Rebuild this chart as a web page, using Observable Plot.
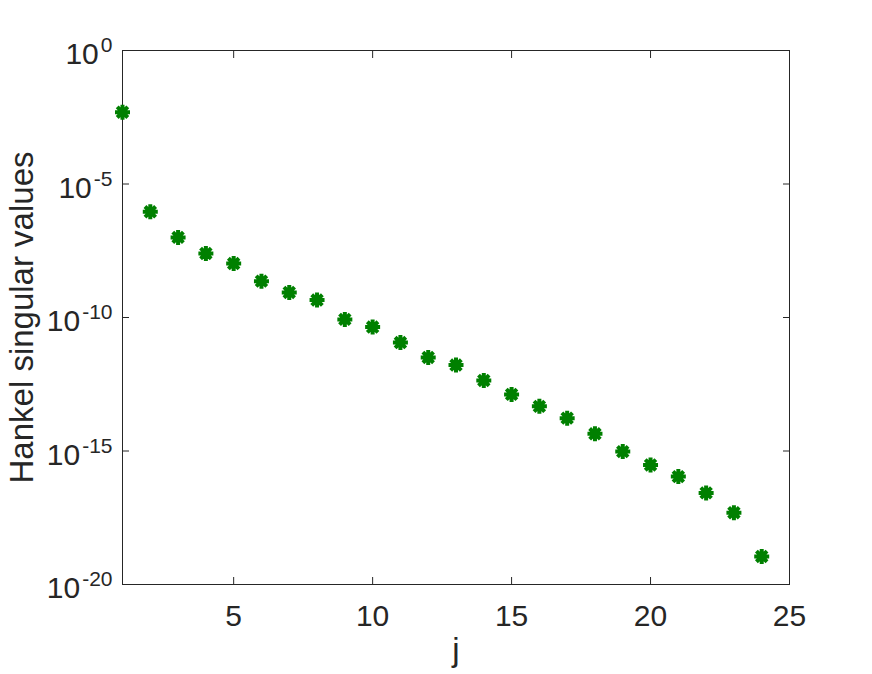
<!DOCTYPE html>
<html>
<head>
<meta charset="utf-8">
<script src="https://cdn.jsdelivr.net/npm/d3@7"></script>
<script src="https://cdn.jsdelivr.net/npm/@observablehq/plot@0.6"></script>
<style>
  html, body { margin: 0; padding: 0; background: #fff; }
  #chart svg { display: block; }
</style>
</head>
<body>
<div id="chart"></div>
<script>
const j = [1, 2, 3, 4, 5, 6, 7, 8, 9, 10, 11, 12, 13, 14, 15, 16, 17, 18, 19, 20, 21, 22, 23, 24];
const hankelSV = [
  4.9e-3, 9.1e-7, 1.0e-7, 2.5e-8, 1.05e-8, 2.3e-9, 8.7e-10, 4.5e-10,
  8.5e-11, 4.4e-11, 1.15e-11, 3.2e-12, 1.66e-12, 4.4e-13, 1.32e-13, 4.7e-14,
  1.7e-14, 4.4e-15, 9.5e-16, 3.0e-16, 1.1e-16, 2.7e-17, 4.9e-18, 1.12e-19
];
const xTicks = [5, 10, 15, 20, 25];
const yTickExponents = [0, -5, -10, -15, -20];
const xLabel = "j";
const yLabel = "Hankel singular values";

const data = j.map((v, i) => ({j: v, s: hankelSV[i]}));
const yTicks = yTickExponents.map(e => Math.pow(10, e));

const star = {
  draw(ctx, size) {
    const r = Math.sqrt(size / Math.PI);
    const d = r * Math.SQRT1_2;
    ctx.moveTo(-r, 0); ctx.lineTo(r, 0);
    ctx.moveTo(0, -r); ctx.lineTo(0, r);
    ctx.moveTo(-d, -d); ctx.lineTo(d, d);
    ctx.moveTo(-d, d); ctx.lineTo(d, -d);
  }
};

const ink = "#262626";
const chart = Plot.plot({
  width: 872,
  height: 674,
  marginLeft: 122,
  marginRight: 83,
  marginTop: 50,
  marginBottom: 90,
  style: {fontFamily: "'Liberation Sans', Arial, Helvetica, sans-serif", color: ink, background: "#fff"},
  x: {domain: [1, 25]},
  y: {type: "log", domain: [1e-20, 1]},
  marks: [
    Plot.frame({stroke: ink, strokeWidth: 1}),
    // inward ticks on all four sides
    Plot.axisX({anchor: "bottom", ticks: xTicks, tickSize: -7, tickFormat: () => "", label: null, stroke: ink}),
    Plot.axisX({anchor: "top", ticks: xTicks, tickSize: -7, tickFormat: () => "", label: null, stroke: ink}),
    Plot.axisY({anchor: "left", ticks: yTicks, tickSize: -7, tickFormat: () => "", label: null, stroke: ink}),
    Plot.axisY({anchor: "right", ticks: yTicks, tickSize: -7, tickFormat: () => "", label: null, stroke: ink}),
    // tick labels
    Plot.axisX({anchor: "bottom", ticks: xTicks, tickSize: 0, tickPadding: 20, fontSize: 30, label: null, fill: ink, ariaLabel: "x-labels"}),
    Plot.axisY({anchor: "left", ticks: yTicks, tickSize: 0, tickPadding: 10, fontSize: 30, dy: 4, label: null, fill: ink,
      tickFormat: d => "10|" + Math.round(Math.log10(d)), ariaLabel: "y-labels"}),
    // axis titles
    Plot.text([xLabel], {frameAnchor: "bottom", dy: 76, text: d => d, fontSize: 33, fill: ink, textAnchor: "middle"}),
    Plot.text([yLabel], {frameAnchor: "left", dx: -100, rotate: -90, text: d => d, fontSize: 33, fill: ink, textAnchor: "middle"}),
    // data
    Plot.dot(data, {x: "j", y: "s", symbol: star, r: 7.5, stroke: "#008000", strokeWidth: 4, strokeLinecap: "butt"})
  ]
});

document.getElementById("chart").appendChild(chart);

// render y tick labels as 10 with a superscript exponent
d3.select(chart).selectAll('g[aria-label="y-labels tick label"] text, g[aria-label="y-labels"] text').each(function() {
  const t = d3.select(this);
  const s = t.text();
  if (!s.includes("|")) return;
  const [base, exp] = s.split("|");
  t.text(null);
  t.append("tspan").text(base);
  t.append("tspan").attr("dx", 2).attr("dy", -12).attr("font-size", 21).text(exp);
});
</script>
</body>
</html>
